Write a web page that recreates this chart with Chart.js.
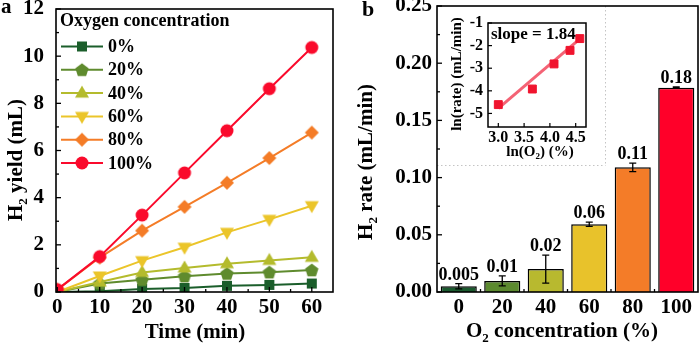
<!DOCTYPE html>
<html>
<head>
<meta charset="utf-8">
<script src="https://cdn.jsdelivr.net/npm/chart.js@4.4.1/dist/chart.umd.min.js"></script>
<style>
  body { margin: 0; background: #fff; }
  #wrap { position: relative; width: 700px; height: 344px; overflow: hidden; }
  canvas { position: absolute; top: 0; }
  #yieldChart { left: 0; }
  #rateChart { left: 350px; }
  #lnChart { left: 440px; }
</style>
</head>
<body>
<div id="wrap">
  <canvas id="yieldChart" width="350" height="344"></canvas>
  <canvas id="rateChart" width="350" height="344"></canvas>
  <canvas id="lnChart" width="170" height="165"></canvas>
</div>
<script>
// --- 1. DATA ---
const timeMin = [0, 10, 20, 30, 40, 50, 60];
const o2Names = ['0%', '20%', '40%', '60%', '80%', '100%'];
const yield0 = [0, 0.03, 0.13, 0.17, 0.26, 0.30, 0.36];
const yield20 = [0, 0.36, 0.52, 0.67, 0.78, 0.84, 0.93];
const yield40 = [0, 0.42, 0.83, 1.02, 1.20, 1.34, 1.47];
const yield60 = [0, 0.68, 1.33, 1.90, 2.53, 3.08, 3.66];
const yield80 = [0.1, 1.46, 2.60, 3.61, 4.63, 5.68, 6.76];
const yield100 = [0.1, 1.50, 3.26, 5.05, 6.84, 8.62, 10.37];
const yieldSeries = [yield0, yield20, yield40, yield60, yield80, yield100];

const o2Cats = ['0', '20', '40', '60', '80', '100'];
const rateVals = [0.005, 0.0097, 0.02, 0.0592, 0.109, 0.1786];
const rateErr = [0.0023, 0.0044, 0.0123, 0.0018, 0.0037, 0.0006];
const rateText = ['0.005', '0.01', '0.02', '0.06', '0.11', '0.18'];

const lnO2 = [3.0, 3.66, 4.08, 4.39, 4.58];
const lnRate = [-4.61, -3.92, -2.81, -2.21, -1.69];
const fitX = [3.0, 4.62];
const fitY = [-4.78, -1.62];
const slopeText = 'slope = 1.84';

// --- 2. STYLE ---
const serif = "'Liberation Serif', 'DejaVu Serif', serif";
const lineColors = ['#1b5e2b', '#5f8b2e', '#b4bb2d', '#ebc52a', '#f47c27', '#fa0a2c'];
const barColors = ['#1a5a2e', '#5c8a2f', '#b8b92f', '#e8c22b', '#f47c28', '#ff0029'];
const markerShapes = ['square', 'pentagon', 'triUp', 'triDown', 'diamond', 'circle'];

Chart.defaults.font.family = serif;
Chart.defaults.font.weight = 'bold';
Chart.defaults.color = '#000';

function makeMarker(shape, color) {
    const c = document.createElement('canvas');
    c.width = 18; c.height = 18;
    const g = c.getContext('2d');
    const m = 9;
    g.fillStyle = color;
    g.beginPath();
    if (shape === 'square') {
        g.rect(m - 5, m - 5, 10, 10);
    } else if (shape === 'circle') {
        g.arc(m, m, 6.5, 0, Math.PI * 2);
    } else if (shape === 'diamond') {
        g.moveTo(m, m - 7); g.lineTo(m + 7, m); g.lineTo(m, m + 7); g.lineTo(m - 7, m);
    } else if (shape === 'triUp' || shape === 'triDown') {
        const s = shape === 'triUp' ? 1 : -1;
        g.moveTo(m, m - s * 7.5);
        g.lineTo(m + 7, m + s * 4.5);
        g.lineTo(m - 7, m + s * 4.5);
    } else if (shape === 'pentagon') {
        for (let k = 0; k < 5; k++) {
            const a = -Math.PI / 2 + k * 2 * Math.PI / 5;
            const px = m + 7 * Math.cos(a), py = m + 0.6 + 7 * Math.sin(a);
            k ? g.lineTo(px, py) : g.moveTo(px, py);
        }
    }
    g.closePath();
    g.fill();
    return c;
}
const markers = markerShapes.map((s, i) => makeMarker(s, lineColors[i]));

// text with subscript parts: [[text, isSub], ...]
function drawRich(ctx, parts, cx, cy, size, rotate) {
    ctx.save();
    ctx.translate(cx, cy);
    if (rotate) ctx.rotate(-Math.PI / 2);
    ctx.fillStyle = '#000';
    ctx.textBaseline = 'alphabetic';
    ctx.textAlign = 'left';
    const subSize = Math.round(size * 0.62);
    let total = 0;
    parts.forEach(([t, sub]) => {
        ctx.font = 'bold ' + (sub ? subSize : size) + 'px ' + serif;
        total += ctx.measureText(t).width;
    });
    let x = -total / 2;
    const base = size * 0.34;
    parts.forEach(([t, sub]) => {
        ctx.font = 'bold ' + (sub ? subSize : size) + 'px ' + serif;
        ctx.fillText(t, x, sub ? base + size * 0.22 : base);
        x += ctx.measureText(t).width;
    });
    ctx.restore();
}

function inwardTicks(ctx, area, scale, values, len, vertical) {
    values.forEach(v => {
        const p = scale.getPixelForValue(v);
        ctx.beginPath();
        if (vertical) { ctx.moveTo(area.left, p); ctx.lineTo(area.left + len, p); }
        else { ctx.moveTo(p, area.bottom); ctx.lineTo(p, area.bottom - len); }
        ctx.stroke();
    });
}

function range(a, b, step) {
    const out = [];
    for (let v = a; v <= b + 1e-9; v += step) out.push(+v.toFixed(4));
    return out;
}

const hideGrid = { display: false, drawTicks: false };

// --- 3. PANEL A: H2 YIELD ---
const yieldDecor = {
    id: 'yieldDecor',
    afterDraw(chart) {
        const { ctx, chartArea: a, scales } = chart;
        ctx.save();
        ctx.strokeStyle = '#000';
        ctx.lineWidth = 1.6;
        ctx.strokeRect(a.left, a.top, a.right - a.left, a.bottom - a.top);
        ctx.lineWidth = 1.3;
        inwardTicks(ctx, a, scales.x, range(0, 60, 10), 5, false);
        inwardTicks(ctx, a, scales.x, range(5, 55, 10), 3, false);
        inwardTicks(ctx, a, scales.y, range(0, 12, 2), 5, true);
        inwardTicks(ctx, a, scales.y, range(1, 11, 2), 3, true);

        // legend
        ctx.fillStyle = '#000';
        ctx.textBaseline = 'middle';
        ctx.font = 'bold 18px ' + serif;
        ctx.fillText('Oxygen concentration', 60, 21);
        o2Names.forEach((name, i) => {
            const y = 46.5 + i * 23.3;
            ctx.strokeStyle = lineColors[i];
            ctx.lineWidth = 2;
            ctx.beginPath(); ctx.moveTo(61, y); ctx.lineTo(103, y); ctx.stroke();
            ctx.drawImage(markers[i], 82 - 9, y - 9);
            ctx.fillStyle = '#000';
            ctx.fillText(name, 108, y + 1);
        });

        ctx.font = 'bold 21px ' + serif;
        ctx.fillText('a', 1, 8);
        ctx.restore();

        drawRich(ctx, [['Time (min)', false]], 195, 331, 21, false);
        drawRich(ctx, [['H', false], ['2', true], [' yield (mL)', false]], 15, 160, 21, true);
    }
};

new Chart(document.getElementById('yieldChart'), {
    type: 'line',
    data: {
        datasets: yieldSeries.map((arr, i) => ({
            label: o2Names[i],
            data: timeMin.map((t, k) => ({ x: t, y: arr[k] })),
            borderColor: lineColors[i],
            backgroundColor: lineColors[i],
            borderWidth: 2,
            pointStyle: markers[i],
            pointRadius: 7,
            order: 5 - i
        }))
    },
    options: {
        responsive: false,
        animation: false,
        events: [],
        layout: { padding: { left: 0, top: 7, right: 17, bottom: 0 } },
        plugins: { legend: { display: false }, tooltip: { enabled: false } },
        scales: {
            x: {
                type: 'linear', min: -0.3, max: 65,
                ticks: { stepSize: 10, includeBounds: false, maxRotation: 0, padding: 3, font: { size: 21 } },
                grid: hideGrid, border: { display: false },
                afterFit: s => { s.height = 52; s.paddingLeft = 0; s.paddingRight = 0; }
            },
            y: {
                min: 0, max: 12,
                ticks: { stepSize: 2, padding: 12, font: { size: 21 } },
                grid: hideGrid, border: { display: false },
                afterFit: s => { s.width = 56; s.paddingTop = 0; s.paddingBottom = 0; }
            }
        }
    },
    plugins: [yieldDecor]
});

// --- 4. PANEL B: H2 RATE BARS ---
const rateDecor = {
    id: 'rateDecor',
    beforeDatasetsDraw(chart) {
        const ctx = chart.ctx;
        ctx.save();
        ctx.strokeStyle = '#c4c4c4';
        ctx.lineWidth = 1;
        ctx.setLineDash([1.5, 2.5]);
        ctx.beginPath();
        ctx.moveTo(chart.chartArea.left, 165.5); ctx.lineTo(255.5, 165.5);
        ctx.moveTo(255.5, chart.chartArea.top); ctx.lineTo(255.5, 165.5);
        ctx.stroke();
        ctx.restore();
    },
    afterDraw(chart) {
        const { ctx, chartArea: a, scales } = chart;
        const meta = chart.getDatasetMeta(0);
        ctx.save();
        // error bars + values
        ctx.strokeStyle = '#000';
        ctx.lineWidth = 1.3;
        ctx.fillStyle = '#000';
        ctx.font = 'bold 18px ' + serif;
        ctx.textAlign = 'center';
        ctx.textBaseline = 'alphabetic';
        rateVals.forEach((v, i) => {
            const x = meta.data[i].x;
            const yt = scales.y.getPixelForValue(v + rateErr[i]);
            const yb = scales.y.getPixelForValue(v - rateErr[i]);
            ctx.beginPath();
            ctx.moveTo(x, yt); ctx.lineTo(x, yb);
            ctx.moveTo(x - 3.5, yt); ctx.lineTo(x + 3.5, yt);
            ctx.moveTo(x - 3.5, yb); ctx.lineTo(x + 3.5, yb);
            ctx.stroke();
            ctx.fillText(rateText[i], x, yt - 4);
        });

        ctx.lineWidth = 1.6;
        ctx.strokeRect(a.left, a.top, a.right - a.left, a.bottom - a.top);
        ctx.lineWidth = 1.3;
        inwardTicks(ctx, a, scales.y, range(0, 0.25, 0.05), 5, true);
        inwardTicks(ctx, a, scales.y, range(0.025, 0.225, 0.05), 3, true);
        const step = scales.x.getPixelForValue(1) - scales.x.getPixelForValue(0);
        for (let i = 0; i < o2Cats.length - 1; i++) {
            const p = scales.x.getPixelForValue(i) + step / 2;
            ctx.beginPath(); ctx.moveTo(p, a.bottom); ctx.lineTo(p, a.bottom - 3); ctx.stroke();
        }

        ctx.textAlign = 'left';
        ctx.textBaseline = 'middle';
        ctx.font = 'bold 22px ' + serif;
        ctx.fillText('b', 12, 10);
        ctx.restore();

        drawRich(ctx, [['O', false], ['2', true], [' concentration (%)', false]], 212, 330, 21, false);
        drawRich(ctx, [['H', false], ['2', true], [' rate (mL/min)', false]], 15, 162, 21, true);
    }
};

new Chart(document.getElementById('rateChart'), {
    type: 'bar',
    data: {
        labels: o2Cats,
        datasets: [{
            data: rateVals,
            backgroundColor: barColors,
            borderColor: '#000',
            borderWidth: 1.5,
            borderSkipped: 'start',
            barPercentage: 0.83,
            categoryPercentage: 1
        }]
    },
    options: {
        responsive: false,
        animation: false,
        events: [],
        layout: { padding: { left: 0, top: 6, right: 2, bottom: 0 } },
        plugins: { legend: { display: false }, tooltip: { enabled: false } },
        scales: {
            x: {
                ticks: { padding: 3, maxRotation: 0, font: { size: 21 } },
                grid: hideGrid, border: { display: false },
                afterFit: s => { s.height = 52; s.paddingLeft = 0; s.paddingRight = 0; }
            },
            y: {
                min: 0, max: 0.25,
                ticks: { stepSize: 0.05, padding: 5, font: { size: 21 }, callback: v => v.toFixed(2) },
                grid: hideGrid, border: { display: false },
                afterFit: s => { s.width = 87; s.paddingTop = 0; s.paddingBottom = 0; }
            }
        }
    },
    plugins: [rateDecor]
});

// --- 5. INSET: ln(rate) vs ln(O2) ---
const lnDecor = {
    id: 'lnDecor',
    afterDraw(chart) {
        const { ctx, chartArea: a, scales } = chart;
        ctx.save();
        ctx.strokeStyle = '#000';
        ctx.lineWidth = 1.5;
        ctx.strokeRect(a.left, a.top, a.right - a.left, a.bottom - a.top);
        ctx.lineWidth = 1.2;
        inwardTicks(ctx, a, scales.x, range(3, 4.5, 0.5), 4, false);
        inwardTicks(ctx, a, scales.y, range(-5, -1, 1), 4, true);
        ctx.fillStyle = '#000';
        ctx.font = 'bold 17px ' + serif;
        ctx.textBaseline = 'middle';
        ctx.fillText(slopeText, a.left + 3, 35);
        ctx.restore();

        drawRich(ctx, [['ln(O', false], ['2', true], [') (%)', false]], 100, 151, 15, false);
        drawRich(ctx, [['ln(rate) (mL/min)', false]], 16, 74, 15, true);
    }
};

new Chart(document.getElementById('lnChart'), {
    type: 'scatter',
    data: {
        datasets: [
            {
                data: lnO2.map((x, i) => ({ x: x, y: lnRate[i] })),
                pointStyle: 'rect',
                pointRadius: 5.6,
                backgroundColor: '#f0142e',
                borderColor: '#f0142e',
                order: 0
            },
            {
                data: fitX.map((x, i) => ({ x: x, y: fitY[i] })),
                showLine: true,
                borderColor: '#f46375',
                borderWidth: 3,
                pointRadius: 0,
                order: 1
            }
        ]
    },
    options: {
        responsive: false,
        animation: false,
        events: [],
        layout: { padding: { left: 0, top: 23, right: 24, bottom: 0 } },
        plugins: { legend: { display: false }, tooltip: { enabled: false } },
        scales: {
            x: {
                min: 2.8, max: 4.7,
                ticks: { stepSize: 0.5, includeBounds: false, padding: 1, maxRotation: 0, font: { size: 16 }, callback: v => v.toFixed(1) },
                grid: hideGrid, border: { display: false },
                afterFit: s => { s.height = 38; s.paddingLeft = 0; s.paddingRight = 0; }
            },
            y: {
                min: -5.6, max: -1,
                ticks: { stepSize: 1, includeBounds: false, padding: 5, font: { size: 16 }, callback: v => String(v) },
                grid: hideGrid, border: { display: false },
                afterFit: s => { s.width = 48; s.paddingTop = 0; s.paddingBottom = 0; }
            }
        }
    },
    plugins: [lnDecor]
});
</script>
</body>
</html>
